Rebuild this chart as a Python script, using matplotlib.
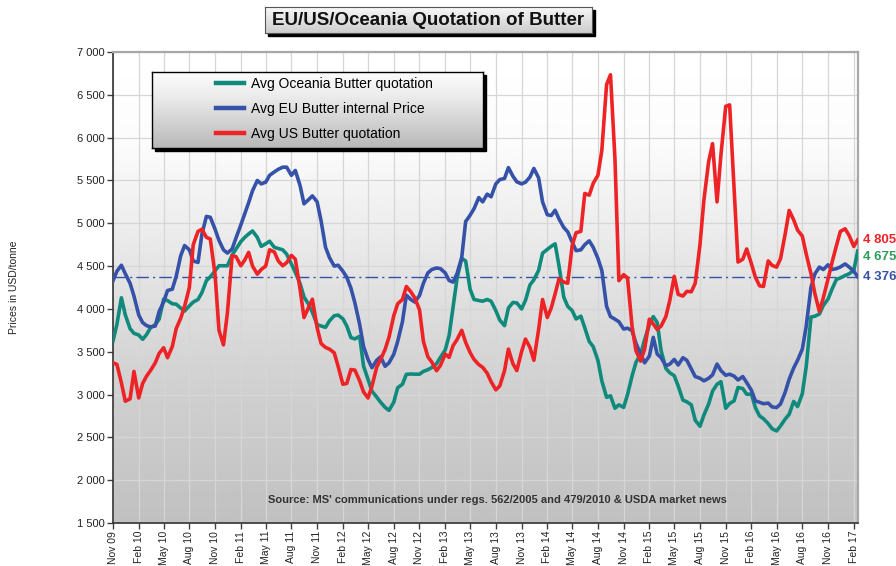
import numpy as np
import pandas as pd
import matplotlib
matplotlib.use("Agg")
import matplotlib.pyplot as plt
import matplotlib.dates as mdates
from matplotlib.patches import Rectangle
from matplotlib.ticker import FuncFormatter, MultipleLocator

plt.rcParams['font.family'] = ['Liberation Sans', 'DejaVu Sans']

# semi-monthly quotations, Nov 2009 - Feb 2017 (USD/tonne)
dates = pd.date_range("2009-11-01", periods=176, freq="SMS")

eu = [4330, 4440, 4510, 4410, 4300, 4150, 3930, 3840, 3805, 3790,
      3800, 3970, 4080, 4215, 4230, 4380, 4620, 4740, 4690, 4560,
      4543, 4875, 5080, 5070, 4930, 4800, 4690, 4652, 4700, 4830,
      4980, 5110, 5240, 5380, 5500, 5460, 5480, 5560, 5600, 5630,
      5655, 5655, 5560, 5617, 5440, 5227, 5275, 5320, 5250, 5030,
      4720, 4600, 4500, 4510, 4440, 4370, 4240, 4070, 3820, 3560,
      3410, 3313, 3400, 3440, 3330, 3370, 3470, 3620, 3850, 4160,
      4110, 4080, 4156, 4300, 4420, 4460, 4478, 4470, 4420, 4332,
      4313, 4410, 4600, 5020, 5094, 5170, 5300, 5250, 5340, 5309,
      5460, 5510, 5523, 5650, 5550, 5484, 5460, 5480, 5540, 5640,
      5530, 5250, 5100, 5090, 5152, 5050, 4950, 4900, 4780, 4680,
      4690, 4750, 4795, 4720, 4590, 4449, 4030, 3910, 3880, 3850,
      3765, 3775, 3746, 3600, 3470, 3370, 3450, 3668, 3473, 3430,
      3336, 3355, 3410, 3345, 3430, 3400, 3300, 3210, 3190, 3160,
      3190, 3230, 3356, 3280, 3225, 3238, 3215, 3170, 3210, 3140,
      3050, 2926, 2910, 2893, 2900, 2855, 2848, 2890, 3030, 3180,
      3310, 3400, 3530, 3800, 4254, 4410, 4488, 4460, 4515, 4460,
      4470, 4490, 4525, 4490, 4440, 4376]

oceania = [3625, 3820, 4130, 3930, 3770, 3715, 3695, 3645, 3700, 3780,
           3815, 3880, 4113, 4097, 4060, 4055, 4010, 3975, 4035, 4080,
           4110, 4191, 4330, 4375, 4445, 4504, 4504, 4504, 4629, 4700,
           4785, 4835, 4875, 4910, 4836, 4730, 4760, 4790, 4719, 4705,
           4690, 4640, 4525, 4426, 4295, 4140, 4055, 3960, 3815, 3801,
           3785, 3860, 3920, 3928, 3885, 3800, 3664, 3650, 3680, 3332,
           3176, 3040, 2970, 2910, 2850, 2815, 2910, 3080, 3120, 3236,
           3240, 3238, 3238, 3270, 3290, 3315, 3360, 3435, 3520, 3690,
           4020, 4350, 4590, 4560, 4230, 4110, 4098, 4090, 4110, 4090,
           3980, 3870, 3805, 4010, 4075, 4070, 4000, 4100, 4280, 4340,
           4450, 4650, 4695, 4730, 4760, 4500, 4137, 4030, 3980, 3883,
           3915, 3780, 3620, 3560, 3400, 3160, 2968, 2985, 2840, 2880,
           2850, 3000, 3215, 3375, 3473, 3640, 3815, 3910, 3840, 3512,
           3305, 3254, 3220, 3100, 2935, 2915, 2880, 2700, 2630, 2760,
           2890, 3040, 3120, 3150, 2840, 2895, 2926, 3082, 3070, 3004,
           3004, 2848, 2750, 2718, 2660, 2600, 2575, 2633, 2715, 2770,
           2920, 2860, 3010, 3330, 3905, 3915, 3940, 4040, 4115, 4230,
           4345, 4362, 4390, 4410, 4450, 4675]

us = [3371, 3352, 3137, 2922, 2950, 3270, 2960, 3130, 3215, 3280,
      3370, 3480, 3547, 3430, 3560, 3770, 3890, 4030, 4250, 4750,
      4905, 4930, 4836, 4816, 4400, 3750, 3580, 3950, 4621, 4610,
      4504, 4570, 4660, 4500, 4406, 4460, 4500, 4690, 4665, 4560,
      4504, 4540, 4625, 4580, 4230, 3899, 4016, 4113, 3780, 3596,
      3550, 3530, 3488, 3330, 3120, 3130, 3293, 3285, 3160, 3030,
      2960, 3098, 3320, 3410, 3527, 3670, 3920, 4060, 4110, 4262,
      4200, 4130, 3990, 3620, 3440, 3380, 3278, 3340, 3473, 3434,
      3570, 3640, 3750, 3610, 3490, 3410, 3350, 3317, 3250, 3150,
      3055, 3100, 3278, 3531, 3360, 3280, 3500, 3648, 3550, 3400,
      3760, 4110, 3900, 4010, 4176, 4352, 4313, 4300, 4740, 4890,
      4905, 5348, 5328, 5465, 5560, 5850, 6620, 6734, 5750, 4330,
      4400, 4360, 3800, 3512, 3390, 3530, 3880, 3824, 3760, 3800,
      3910, 4098, 4380, 4170, 4150, 4205, 4200, 4300, 4750, 5270,
      5720, 5930, 5250, 5800, 6365, 6383, 5400, 4547, 4580, 4700,
      4527, 4371, 4270, 4262, 4560, 4508, 4488, 4586, 4880, 5150,
      5040, 4920, 4850, 4640, 4410, 4176, 3970, 4130, 4350, 4540,
      4740, 4905, 4935, 4860, 4730, 4805]

names = ["Avg Oceania Butter quotation", "Avg EU Butter internal Price",
         "Avg US Butter quotation"]
colors = ["#0f8a7c", "#3652a8", "#ee2326"]
label_colors = ["#2f9c5c", "#3652a8", "#ee2326"]

W, H = 896, 566
fig = plt.figure(figsize=(W / 100, H / 100), dpi=100)


def px_rect(x0, y0, x1, y1):
    # pixel box (top-left origin) -> figure fraction rect
    return [x0 / W, 1 - y1 / H, (x1 - x0) / W, (y1 - y0) / H]


def gradient(axg, stops_t, stops_v):
    t = np.linspace(0, 1, 256)
    g = np.interp(t, stops_t, stops_v)[:, None]
    axg.imshow(g, aspect="auto", cmap="gray", vmin=0, vmax=1,
               extent=(0, 1, 0, 1), interpolation="bilinear")
    axg.set_xlim(0, 1)
    axg.set_ylim(0, 1)


plot_rect = px_rect(113, 52, 857.7, 523)

# plot area background
bg = fig.add_axes(plot_rect, zorder=0)
gradient(bg, [0, 0.2, 0.45, 0.7, 1.0], [1.0, 0.985, 0.9, 0.82, 0.755])
bg.axis("off")

ax = fig.add_axes(plot_rect, zorder=1)
ax.set_facecolor("none")

series = [oceania, eu, us]
handles = []
for vals, name, col in zip(series, names, colors):
    h, = ax.plot(dates, vals, color=col, lw=2.6, label=name,
                 solid_joinstyle="round", zorder=3)
    handles.append(h)

ax.axhline(eu[-1], color="#3652a8", lw=1.0, linestyle=(0, (9, 3, 1.5, 3)),
           zorder=2)

ax.set_xlim(dates[0], dates[-1])
ax.set_ylim(1500, 7000)
ax.yaxis.set_major_locator(MultipleLocator(500))
ax.yaxis.set_major_formatter(
    FuncFormatter(lambda v, p: f"{int(v):,}".replace(",", " ")))
ax.xaxis.set_major_locator(mdates.MonthLocator(bymonth=[2, 5, 8, 11]))
ax.xaxis.set_major_formatter(mdates.DateFormatter("%b %y"))
for lab in ax.get_xticklabels():
    lab.set_rotation(90)
ax.tick_params(direction="out", length=4, width=1, color="#404040",
               labelsize=8, labelcolor="#222222", pad=2)
ax.tick_params(axis="x", labelsize=7.5, pad=1.5)
ax.grid(True, color="#d6d6d6", lw=0.9, zorder=1)
ax.set_axisbelow(True)

for s in ["left", "bottom"]:
    ax.spines[s].set_color("#333333")
    ax.spines[s].set_linewidth(1.2)
for s in ["top", "right"]:
    ax.spines[s].set_color("#a8a8a8")
    ax.spines[s].set_linewidth(1.6)

# end-of-series value labels
offsets = [-4.5, 0, 0]
for vals, col, off in zip(series, label_colors, offsets):
    ax.annotate(f"{vals[-1]:,}".replace(",", " "), xy=(dates[-1], vals[-1]),
                xytext=(3.5, off), textcoords="offset points", va="center",
                ha="left", color=col, fontsize=9.5, fontweight="bold",
                annotation_clip=False)

ax.text(0.516, 0.049,
        "Source: MS' communications under regs. 562/2005 and 479/2010 & USDA market news",
        transform=ax.transAxes, ha="center", va="center", fontsize=8,
        fontweight="bold", color="#333333")

fig.text(0.0156, 0.493, "Prices in USD/tonne", rotation=90, va="center",
         ha="center", fontsize=7.5, color="#222222")

# legend box with shadow and gradient
lx0, ly0, lx1, ly1 = 152, 72, 483, 148
r = px_rect(lx0 + 3, ly0 + 3, lx1 + 3, ly1 + 3)
fig.add_artist(Rectangle((r[0], r[1]), r[2], r[3], transform=fig.transFigure,
                         color="black", zorder=2))
lax = fig.add_axes(px_rect(lx0, ly0, lx1, ly1), zorder=3)
gradient(lax, [0, 0.3, 1.0], [0.99, 0.93, 0.72])
lax.set_xticks([])
lax.set_yticks([])
for s in lax.spines.values():
    s.set_color("black")
    s.set_linewidth(1.0)
lax.legend(handles, names, loc="center left", bbox_to_anchor=(0.193, 0.513),
           frameon=False, fontsize=10, handlelength=2.0, handletextpad=0.5,
           labelspacing=0.8, borderpad=0, borderaxespad=0)
for line in lax.get_legend().get_lines():
    line.set_linewidth(3.2)

# title box with shadow and gradient
tx0, ty0, tx1, ty1 = 265, 7, 592, 33
r = px_rect(tx0 + 3, ty0 + 3, tx1 + 3, ty1 + 3)
fig.add_artist(Rectangle((r[0], r[1]), r[2], r[3], transform=fig.transFigure,
                         color="black", zorder=2))
tax = fig.add_axes(px_rect(tx0, ty0, tx1, ty1), zorder=3)
gradient(tax, [0, 1.0], [0.97, 0.8])
tax.set_xticks([])
tax.set_yticks([])
for s in tax.spines.values():
    s.set_color("#555555")
    s.set_linewidth(0.8)
tax.text(0.5, 0.47, "EU/US/Oceania Quotation of Butter", ha="center",
         va="center", fontsize=13.5, fontweight="bold", color="#111111",
         family=["Liberation Sans Narrow", "Liberation Sans", "DejaVu Sans"],
         transform=tax.transAxes)

fig.savefig("out.png", dpi=100)
